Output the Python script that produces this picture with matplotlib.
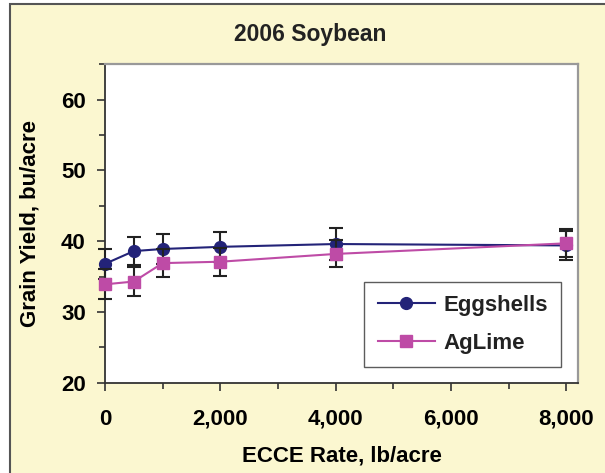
import matplotlib.pyplot as plt
from matplotlib.ticker import MultipleLocator, FuncFormatter
from matplotlib.patches import Rectangle
from matplotlib.lines import Line2D

## 数据
rate = [0, 500, 1000, 2000, 4000, 8000]
eggshells = [36.8, 38.6, 38.9, 39.2, 39.6, 39.4]
egg_err = [2.1, 2.0, 2.1, 2.1, 2.2, 2.0]
aglime = [33.9, 34.3, 36.9, 37.1, 38.2, 39.7]
lime_err = [2.1, 2.0, 2.0, 2.0, 1.9, 2.0]

plt.rcParams['font.family'] = ['Liberation Sans', 'DejaVu Sans']
plt.rcParams['font.weight'] = 'bold'

bg = '#FBF7D0'
navy = '#232378'
pink = '#BE4BA6'
fig = plt.figure(figsize=(6.05, 4.73), dpi=100)
fig.patch.set_facecolor('white')
# 外框
fig.patches.append(Rectangle((10/605, -0.05), 1.0, 1.05 - 4/473, transform=fig.transFigure,
                             facecolor=bg, edgecolor='#555555', linewidth=1.5, zorder=-5))

ax = fig.add_axes([105/605, 90.3/473, 473/605, 318.4/473])
ax.set_zorder(2)
ax.set_facecolor('white')

ax.errorbar(rate, eggshells, yerr=egg_err, color=navy, marker='o', markersize=8.5,
            linewidth=1.5, ecolor='#222222', elinewidth=1.5, capsize=4.7, capthick=1.5,
            zorder=3, clip_on=False)
ax.errorbar(rate, aglime, yerr=lime_err, color=pink, marker='s', markersize=8,
            linewidth=1.5, ecolor='#222222', elinewidth=1.5, capsize=4.7, capthick=1.5,
            zorder=4, clip_on=False)

ax.set_xlim(0, 8200)
ax.set_ylim(20, 65)
ax.xaxis.set_major_locator(MultipleLocator(2000))
ax.xaxis.set_minor_locator(MultipleLocator(1000))
ax.yaxis.set_major_locator(MultipleLocator(10))
ax.yaxis.set_minor_locator(MultipleLocator(5))
ax.xaxis.set_major_formatter(FuncFormatter(lambda v, p: f'{int(v):,}'))
ax.tick_params(which='both', direction='out', labelsize=16, width=1.2, color='#333333')
ax.tick_params(which='major', length=5.8)
ax.tick_params(which='minor', length=4.3)
ax.tick_params(axis='x', pad=13)
ax.tick_params(axis='y', pad=8)
for s in ['top', 'right']:
    ax.spines[s].set_color('#999999')
    ax.spines[s].set_linewidth(1.6)
for s in ['left', 'bottom']:
    ax.spines[s].set_color('#333333')
    ax.spines[s].set_linewidth(1.3)

ax.set_xlabel('ECCE Rate, lb/acre', fontsize=16, fontweight='bold', labelpad=11)
ax.set_ylabel('Grain Yield, bu/acre', fontsize=16, fontweight='bold', labelpad=15)
fig.text(310/605, 1 - 34/473, '2006 Soybean', ha='center', va='center',
         fontsize=16.5, fontweight='bold', color='#222222')

h = [Line2D([], [], color=navy, marker='o', markersize=8.5, linewidth=1.5),
     Line2D([], [], color=pink, marker='s', markersize=8, linewidth=1.5)]
leg = ax.legend(h, ['Eggshells', 'AgLime'], loc='lower right', bbox_to_anchor=(0.964, 0.049),
                fontsize=16, frameon=True, fancybox=False, edgecolor='#333333', borderpad=0.6,
                labelspacing=0.75, handlelength=2.6, handletextpad=0.35, borderaxespad=0)
leg.get_frame().set_linewidth(1.0)
for t in leg.get_texts():
    t.set_color('#222222')

fig.savefig('out.png', dpi=100, facecolor=fig.get_facecolor())
